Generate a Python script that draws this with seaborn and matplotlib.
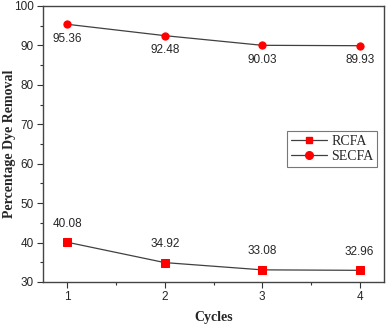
import matplotlib
matplotlib.use("Agg")
import matplotlib.pyplot as plt
from matplotlib.ticker import MultipleLocator
from matplotlib.lines import Line2D
import seaborn as sns
import pandas as pd

cycles = [1, 2, 3, 4]
rcfa = [40.08, 34.92, 33.08, 32.96]
secfa = [95.36, 92.48, 90.03, 89.93]
series_names = ["RCFA", "SECFA"]

df = pd.concat([
    pd.DataFrame({"Cycles": cycles, "Removal": rcfa, "Sample": series_names[0]}),
    pd.DataFrame({"Cycles": cycles, "Removal": secfa, "Sample": series_names[1]}),
])

sns.set_style("white")
plt.rcParams["font.family"] = ["Liberation Sans", "DejaVu Sans"]

fig = plt.figure(figsize=(3.87, 3.27), dpi=100)
ax = fig.add_axes([43 / 387, 1 - 282 / 327, (384 - 43) / 387, (282 - 6) / 327])

line_col = "#404040"
sns.lineplot(data=df, x="Cycles", y="Removal", hue="Sample", style="Sample",
             markers={"RCFA": "s", "SECFA": "o"}, dashes=False,
             palette={"RCFA": line_col, "SECFA": line_col},
             linewidth=0.9, markersize=5.2, ax=ax, legend=False)
# red markers on gray connecting lines
for line in ax.get_lines():
    line.set_markerfacecolor("#ff0000")
    line.set_markeredgecolor("#ff0000")

for x, y in zip(cycles, rcfa):
    ax.annotate(f"{y:.2f}", (x, y), xytext=(0, 9), textcoords="offset points",
                ha="center", va="bottom", fontsize=8.5)
for x, y in zip(cycles, secfa):
    ax.annotate(f"{y:.2f}", (x, y), xytext=(0, -6), textcoords="offset points",
                ha="center", va="top", fontsize=8.5)

ax.set_xlim(0.75, 4.25)
ax.set_ylim(30, 100)
ax.xaxis.set_major_locator(MultipleLocator(1))
ax.xaxis.set_minor_locator(MultipleLocator(0.5))
ax.yaxis.set_major_locator(MultipleLocator(10))
ax.yaxis.set_minor_locator(MultipleLocator(5))
ax.tick_params(axis="both", which="major", direction="out", length=4, width=0.8,
               labelsize=8.5, bottom=True, left=True, top=False, right=False,
               color="#333333", pad=2.5)
ax.tick_params(axis="both", which="minor", direction="out", length=2, width=0.8,
               bottom=True, left=True, top=False, right=False, color="#333333")

for sp in ax.spines.values():
    sp.set_color("#444444")
    sp.set_linewidth(1.0)

serif = ["Liberation Serif", "DejaVu Serif"]
ax.set_xlabel("Cycles", fontsize=10, fontweight="bold", family=serif, va="center")
ax.set_ylabel("Percentage Dye Removal", fontsize=10, fontweight="bold", family=serif, va="center")
ax.xaxis.set_label_coords(0.5, -0.13)
ax.yaxis.set_label_coords(-0.097, 0.5)

handles = [
    Line2D([], [], color=line_col, lw=0.9, marker="s", markersize=5,
           markerfacecolor="#ff0000", markeredgecolor="#ff0000"),
    Line2D([], [], color=line_col, lw=0.9, marker="o", markersize=5.5,
           markerfacecolor="#ff0000", markeredgecolor="#ff0000"),
]
leg = ax.legend(handles, series_names, loc="upper right",
                bbox_to_anchor=(0.979, 0.547), prop={"family": serif, "size": 10},
                frameon=True, fancybox=False, handlelength=2.6, handletextpad=0.3,
                borderpad=0.25, labelspacing=0.2, borderaxespad=0)
leg.get_frame().set_edgecolor("#555555")
leg.get_frame().set_linewidth(0.8)

fig.savefig("out.png", dpi=100)
